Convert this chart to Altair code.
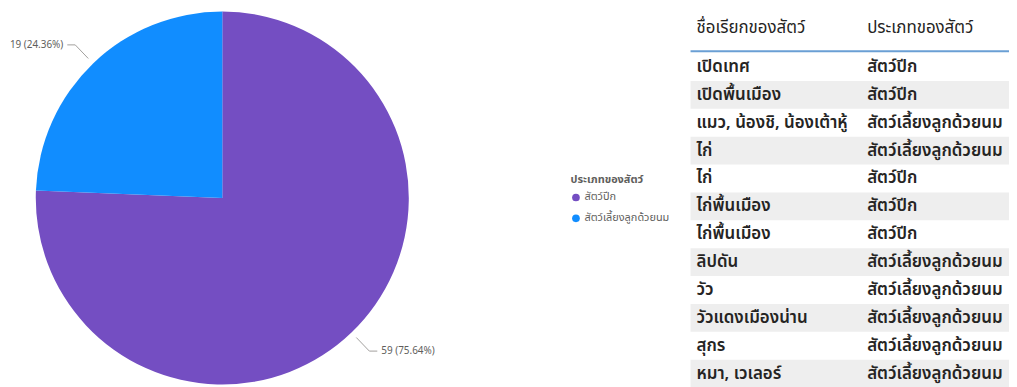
import math
import altair as alt
import pandas as pd

# ---- data ----
categories = ["สัตว์ปีก", "สัตว์เลี้ยงลูกด้วยนม"]
counts = [59, 19]
colors = ["#744EC2", "#118DFF"]

col_headers = ["ชื่อเรียกของสัตว์", "ประเภทของสัตว์"]
names = ["เปิดเทศ", "เปิดพื้นเมือง", "แมว, น้องชิ, น้องเต้าหู้", "ไก่", "ไก่", "ไก่พื้นเมือง",
         "ไก่พื้นเมือง", "ลิปดัน", "วัว", "วัวแดงเมืองน่าน", "สุกร", "หมา, เวเลอร์"]
types = ["สัตว์ปีก", "สัตว์ปีก", "สัตว์เลี้ยงลูกด้วยนม", "สัตว์เลี้ยงลูกด้วยนม", "สัตว์ปีก", "สัตว์ปีก",
         "สัตว์ปีก", "สัตว์เลี้ยงลูกด้วยนม", "สัตว์เลี้ยงลูกด้วยนม", "สัตว์เลี้ยงลูกด้วยนม",
         "สัตว์เลี้ยงลูกด้วยนม", "สัตว์เลี้ยงลูกด้วยนม"]

FONT = "Noto Sans Thai, Noto Sans, sans-serif"
W, H = 1009, 379
CX, CY, R = 216, 190, 188

total = sum(counts)
pie_df = pd.DataFrame({"cat": categories, "n": counts, "ord": list(range(len(categories)))})

# label geometry derived from the pie values
line_rows, lab_rows = [], []
start = 0.0
for cat, n in zip(categories, counts):
    frac = n / total
    mid = (start + frac / 2) * 2 * math.pi
    start += frac
    s, c = math.sin(mid), -math.cos(mid)
    sgn = 1 if s >= 0 else -1
    p0 = (CX + 195 * s, CY + 195 * c)
    p1 = (CX + 214 * s, CY + 214 * c)
    p2 = (p1[0] + 8 * sgn, p1[1])
    for k, p in enumerate([p0, p1, p2]):
        line_rows.append({"cat": cat, "k": k, "px": p[0], "py": p[1]})
    lab_rows.append({"cat": cat, "px": p2[0] + 4 * sgn, "py": p2[1],
                     "txt": f"{n} ({frac*100:.2f}%)", "side": "L" if sgn > 0 else "R"})
line_df = pd.DataFrame(line_rows)
lab_df = pd.DataFrame(lab_rows)

pie = alt.Chart(pie_df).mark_arc(radius=R, stroke=None).encode(
    theta=alt.Theta("n:Q", stack=True),
    order=alt.Order("ord:Q"),
    color=alt.Color("cat:N", scale=alt.Scale(domain=categories, range=colors),
                    legend=alt.Legend(title="ประเภทของสัตว์", orient="none", legendX=567, legendY=166,
                                      symbolType="circle", symbolSize=60, symbolStrokeWidth=0,
                                      labelFont=FONT, titleFont=FONT, labelFontSize=11,
                                      titleFontSize=11, titleFontWeight="bold",
                                      titleColor="#605E5C", labelColor="#605E5C",
                                      rowPadding=9, labelOffset=3, titlePadding=7)),
    x=alt.value(CX), y=alt.value(CY),
)

lines = alt.Chart(line_df).mark_line(color="#A19F9D", strokeWidth=1).encode(
    x=alt.X("px:Q", scale=None), y=alt.Y("py:Q", scale=None), detail="cat:N", order="k:Q")

lab_l = alt.Chart(lab_df[lab_df.side == "L"]).mark_text(
    align="left", baseline="middle", font=FONT, fontSize=10, color="#605E5C").encode(
    x=alt.X("px:Q", scale=None), y=alt.Y("py:Q", scale=None), text="txt:N")
lab_r = alt.Chart(lab_df[lab_df.side == "R"]).mark_text(
    align="right", baseline="middle", font=FONT, fontSize=10, color="#605E5C").encode(
    x=alt.X("px:Q", scale=None), y=alt.Y("py:Q", scale=None), text="txt:N")

# table
tab_df = pd.DataFrame({"row": list(range(1, len(names) + 1)), "name": names, "typ": types})
tab_df["lo"] = tab_df["row"] - 0.5
tab_df["hi"] = tab_df["row"] + 0.5
yscale = alt.Scale(domain=[1, 12], range=[58, 367], nice=False, zero=False)

shade = alt.Chart(tab_df[tab_df.row % 2 == 0]).mark_rect(color="#EEEEEE").encode(
    x=alt.value(688), x2=alt.value(W),
    y=alt.Y("lo:Q", scale=yscale, axis=None), y2="hi:Q")

t1 = alt.Chart(tab_df).mark_text(align="left", baseline="middle", font=FONT, fontSize=17,
                                 fontWeight=600, color="#252423").encode(
    x=alt.value(694), y=alt.Y("row:Q", scale=yscale, axis=None), text="name:N")
t2 = alt.Chart(tab_df).mark_text(align="left", baseline="middle", font=FONT, fontSize=17,
                                 fontWeight=600, color="#252423").encode(
    x=alt.value(866), y=alt.Y("row:Q", scale=yscale, axis=None), text="typ:N")

hdr_df = pd.DataFrame({"h": col_headers, "hx": [694, 866]})
hdr = alt.Chart(hdr_df).mark_text(align="left", baseline="middle", font=FONT, fontSize=17,
                                  color="#252423").encode(
    x=alt.X("hx:Q", scale=None), y=alt.value(19), text="h:N")
rule = alt.Chart(hdr_df.head(1)).mark_rule(color="#6A9FD4", strokeWidth=2).encode(
    x=alt.value(688), x2=alt.value(W), y=alt.value(42))

chart = alt.layer(pie, lines, lab_l, lab_r, shade, t1, t2, hdr, rule).resolve_scale(
    x="independent", y="independent", color="independent", theta="independent"
).properties(width=W, height=H, autosize=alt.AutoSizeParams(type="none"), padding=0
).configure_view(stroke=None)

chart.save("out.html", embed_options={"renderer": "svg", "actions": False})
